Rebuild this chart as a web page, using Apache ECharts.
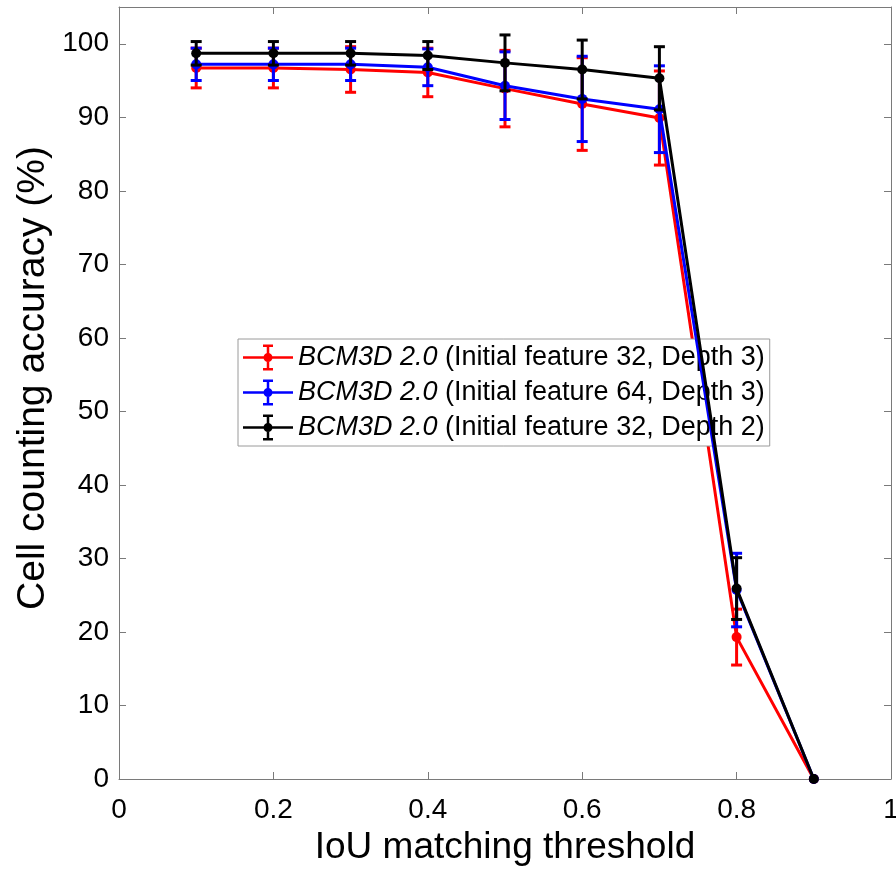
<!DOCTYPE html>
<html>
<head>
<meta charset="utf-8">
<script src="https://cdn.jsdelivr.net/npm/echarts@6/dist/echarts.min.js"></script>
<style>
  html, body { margin: 0; padding: 0; background: #fff; }
  #chart { width: 896px; height: 871px; }
</style>
</head>
<body>
<div id="chart"></div>
<script>
// ---- Data ----
const thresholds = [0.1, 0.2, 0.3, 0.4, 0.5, 0.6, 0.7, 0.8, 0.9];
const seriesNames = [
  'BCM3D 2.0 (Initial feature 32, Depth 3)',
  'BCM3D 2.0 (Initial feature 64, Depth 3)',
  'BCM3D 2.0 (Initial feature 32, Depth 2)'
];
const seriesColors = ['#ff0000', '#0000ff', '#000000'];
const redMean   = [96.7, 96.7, 96.5, 96.1, 93.9, 91.8, 89.9, 19.3, 0];
const redErr    = [2.7, 2.7, 3.1, 3.3, 5.2, 6.3, 6.4, 3.8, 0];
const blueMean  = [97.2, 97.2, 97.2, 96.8, 94.3, 92.5, 91.1, 25.7, 0];
const blueErr   = [2.2, 2.2, 2.2, 2.5, 4.6, 5.8, 5.9, 5.0, 0];
const blackMean = [98.7, 98.7, 98.7, 98.4, 97.4, 96.5, 95.3, 25.9, 0];
const blackErr  = [1.6, 1.6, 1.6, 1.9, 3.8, 4.0, 4.3, 4.2, 0];
const xTicks = [0, 0.2, 0.4, 0.6, 0.8, 1];
const yTicks = [0, 10, 20, 30, 40, 50, 60, 70, 80, 90, 100];

const means = [redMean, blueMean, blackMean];
const errs = [redErr, blueErr, blackErr];

const FONT = "'Liberation Sans', Arial, Helvetica, sans-serif";
const AXIS_COLOR = '#7a7a7a';

const legendIcon = 'path://M0,11.75H50V14.25H0Z M23.75,0H26.25V26H23.75Z M20,0H30V2.5H20Z M20,23.5H30V26H20Z M29.5,13A4.5,4.5 0 1 1 20.5,13A4.5,4.5 0 1 1 29.5,13Z';

const series = [];
means.forEach((m, si) => {
  const color = seriesColors[si];
  const errData = thresholds.map((x, i) => [x, m[i] - errs[si][i], m[i] + errs[si][i], errs[si][i]]);
  series.push({
    type: 'custom',
    name: seriesNames[si] + ' err',
    xAxisIndex: 0, yAxisIndex: 0,
    z: 2 + si * 2,
    silent: true,
    data: errData,
    encode: { x: 0, y: [1, 2] },
    renderItem: function (params, api) {
      if (api.value(3) <= 0) return null;
      const x = api.value(0);
      const top = api.coord([x, api.value(2)]);
      const bot = api.coord([x, api.value(1)]);
      const hw = 5.5;
      const st = { stroke: color, lineWidth: 3 };
      return {
        type: 'group',
        children: [
          { type: 'line', shape: { x1: top[0], y1: top[1], x2: bot[0], y2: bot[1] }, style: st },
          { type: 'line', shape: { x1: top[0] - hw, y1: top[1], x2: top[0] + hw, y2: top[1] }, style: st },
          { type: 'line', shape: { x1: bot[0] - hw, y1: bot[1], x2: bot[0] + hw, y2: bot[1] }, style: st }
        ]
      };
    }
  });
  series.push({
    type: 'line',
    name: seriesNames[si],
    xAxisIndex: 0, yAxisIndex: 0,
    z: 3 + si * 2,
    data: thresholds.map((x, i) => [x, m[i]]),
    symbol: 'circle',
    symbolSize: 10,
    showSymbol: true,
    lineStyle: { color: color, width: 3 },
    itemStyle: { color: color },
    emphasis: { disabled: true }
  });
});

const chart = echarts.init(document.getElementById('chart'), null, { renderer: 'canvas' });
chart.setOption({
  animation: false,
  backgroundColor: '#ffffff',
  grid: { left: 119, right: 5, top: 7, bottom: 92, containLabel: false, outerBoundsMode: 'none' },
  xAxis: [
    {
      type: 'value', position: 'bottom', min: xTicks[0], max: xTicks[xTicks.length - 1], interval: 0.2,
      axisLine: { show: true, lineStyle: { color: AXIS_COLOR, width: 1 } },
      axisTick: { show: true, inside: true, length: 7, lineStyle: { color: AXIS_COLOR } },
      axisLabel: { show: true, margin: 17, color: '#000', fontSize: 28, fontFamily: FONT },
      splitLine: { show: false },
      name: 'IoU matching threshold', nameLocation: 'middle', nameGap: 50,
      nameTextStyle: { color: '#000', fontSize: 37, fontFamily: FONT }
    },
    {
      type: 'value', position: 'top', min: xTicks[0], max: xTicks[xTicks.length - 1], interval: 0.2,
      axisLine: { show: true, onZero: false, lineStyle: { color: AXIS_COLOR, width: 1 } },
      axisTick: { show: true, inside: true, length: 7, lineStyle: { color: AXIS_COLOR } },
      axisLabel: { show: false }, splitLine: { show: false }
    }
  ],
  yAxis: [
    {
      type: 'value', position: 'left', min: 0, max: 105, interval: 10,
      axisLine: { show: true, onZero: false, lineStyle: { color: AXIS_COLOR, width: 1 } },
      axisTick: { show: true, inside: true, length: 7, lineStyle: { color: AXIS_COLOR } },
      axisLabel: {
        show: true, margin: 10, color: '#000', fontSize: 28, fontFamily: FONT, showMaxLabel: false,
        formatter: v => (yTicks.indexOf(v) >= 0 ? String(v) : '')
      },
      splitLine: { show: false }
    },
    {
      type: 'value', position: 'right', min: 0, max: 105, interval: 10,
      axisLine: { show: true, onZero: false, lineStyle: { color: AXIS_COLOR, width: 1 } },
      axisTick: { show: true, inside: true, length: 7, lineStyle: { color: AXIS_COLOR } },
      axisLabel: { show: false }, splitLine: { show: false }
    }
  ],
  legend: {
    show: true,
    orient: 'vertical',
    left: 238, top: 339,
    padding: [5, 5, 5, 5],
    itemWidth: 50, itemHeight: 26, itemGap: 8,
    backgroundColor: '#ffffff',
    borderColor: '#9a9a9a', borderWidth: 1, borderRadius: 0,
    selectedMode: false,
    itemStyle: { borderWidth: 0 },
    data: seriesNames.map(n => ({ name: n, icon: legendIcon })),
    formatter: function (name) {
      const rest = name.replace('BCM3D 2.0 ', '');
      return '{i|BCM3D 2.0} {n|' + rest + '}';
    },
    textStyle: {
      color: '#000', fontSize: 27, fontFamily: FONT,
      rich: {
        i: { fontStyle: 'italic', fontSize: 27, fontFamily: FONT, color: '#000', lineHeight: 28 },
        n: { fontSize: 27, fontFamily: FONT, color: '#000', lineHeight: 28 }
      }
    }
  },
  graphic: [
    {
      type: 'text',
      x: 33, y: 378,
      rotation: Math.PI / 2,
      style: {
        text: 'Cell counting accuracy (%)',
        fill: '#000',
        font: '39px ' + FONT,
        textAlign: 'center',
        textVerticalAlign: 'middle'
      }
    }
  ],
  series: series
});
</script>
</body>
</html>
